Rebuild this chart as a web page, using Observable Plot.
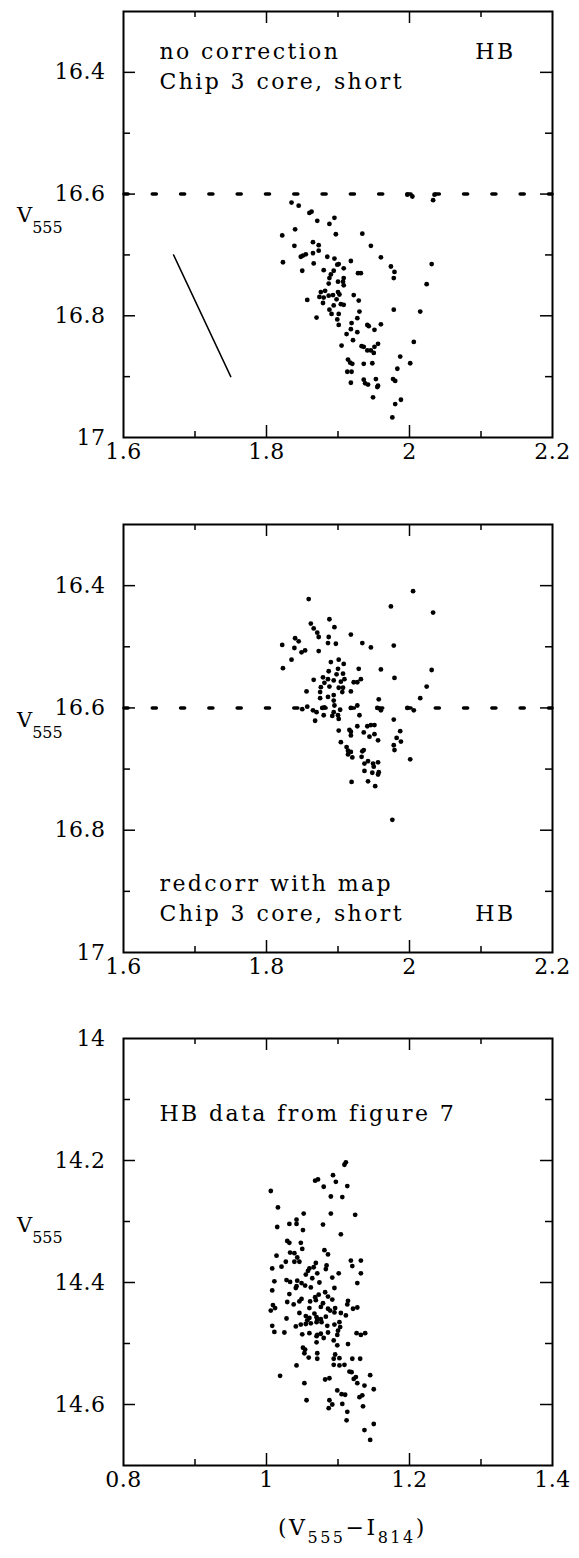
<!DOCTYPE html>
<html><head><meta charset="utf-8">
<script src="https://cdn.jsdelivr.net/npm/d3@7"></script>
<script src="https://cdn.jsdelivr.net/npm/@observablehq/plot@0.6"></script>
<style>body{margin:0;background:#fff;} svg{display:block;} #chart{width:579px;}</style>
</head><body><div id="chart"></div><script>
// ---- data: [color (V555-I814), V555] ----
const hbNoCorr = [[1.835,16.614],[1.845,16.619],[1.860,16.631],[1.863,16.629],[1.895,16.639],[1.871,16.644],[1.888,16.649],[1.840,16.658],[1.822,16.668],[1.897,16.666],[1.934,16.665],[1.865,16.679],[1.873,16.684],[1.839,16.685],[1.946,16.685],[1.873,16.693],[1.865,16.697],[1.855,16.699],[1.851,16.701],[1.848,16.703],[1.960,16.704],[1.885,16.703],[1.895,16.706],[1.823,16.712],[1.866,16.714],[1.901,16.715],[1.899,16.716],[1.918,16.710],[2.031,16.715],[1.974,16.719],[1.850,16.726],[1.880,16.725],[1.908,16.722],[1.890,16.732],[1.894,16.726],[1.928,16.730],[1.932,16.730],[1.979,16.728],[1.978,16.738],[1.888,16.738],[1.908,16.738],[1.907,16.744],[1.900,16.744],[1.887,16.747],[1.908,16.750],[2.024,16.748],[1.876,16.761],[1.882,16.759],[1.874,16.769],[1.880,16.770],[1.893,16.766],[1.887,16.767],[1.900,16.761],[1.902,16.765],[1.857,16.774],[1.879,16.779],[1.898,16.773],[1.922,16.766],[1.929,16.775],[1.894,16.783],[1.904,16.781],[1.908,16.782],[1.888,16.790],[1.978,16.790],[2.015,16.793],[1.930,16.793],[1.891,16.797],[1.901,16.797],[1.870,16.803],[1.899,16.806],[1.927,16.804],[1.901,16.815],[1.919,16.812],[1.941,16.815],[1.943,16.817],[1.960,16.814],[1.951,16.823],[1.918,16.822],[1.912,16.830],[1.927,16.827],[1.905,16.849],[1.921,16.840],[2.006,16.843],[1.933,16.850],[1.936,16.851],[1.951,16.851],[1.956,16.846],[1.941,16.857],[1.946,16.857],[1.950,16.861],[1.987,16.867],[1.914,16.872],[1.917,16.877],[1.920,16.879],[1.936,16.879],[1.948,16.878],[2.001,16.878],[1.983,16.887],[1.913,16.892],[1.919,16.892],[1.936,16.905],[1.953,16.904],[1.977,16.904],[1.980,16.907],[1.918,16.910],[1.938,16.911],[1.942,16.913],[1.956,16.915],[1.955,16.917],[1.949,16.934],[1.988,16.938],[1.980,16.945],[1.976,16.967],[1.997,16.601],[2.004,16.604],[2.033,16.610],[2.035,16.601]];

const hbRedcorr = [[1.859,16.422],[2.005,16.409],[1.974,16.434],[2.033,16.444],[1.888,16.455],[1.862,16.462],[1.866,16.470],[1.895,16.468],[1.871,16.477],[1.873,16.484],[1.887,16.484],[1.918,16.480],[1.840,16.486],[1.845,16.491],[1.822,16.497],[1.886,16.494],[1.897,16.495],[1.934,16.494],[1.946,16.501],[1.978,16.498],[1.839,16.502],[1.854,16.506],[1.849,16.509],[1.873,16.507],[1.835,16.521],[1.890,16.525],[1.901,16.521],[1.908,16.528],[1.823,16.535],[1.900,16.536],[1.887,16.540],[1.907,16.544],[1.898,16.545],[1.929,16.536],[1.960,16.537],[2.031,16.538],[1.879,16.550],[1.886,16.553],[1.894,16.555],[1.904,16.557],[1.909,16.553],[1.866,16.554],[1.881,16.559],[1.876,16.566],[1.888,16.565],[1.901,16.567],[1.907,16.567],[1.906,16.574],[1.918,16.573],[1.922,16.558],[1.932,16.553],[1.927,16.558],[1.979,16.551],[2.024,16.565],[1.856,16.573],[1.875,16.574],[1.875,16.584],[1.886,16.582],[1.894,16.579],[1.957,16.586],[2.015,16.584],
[1.850,16.602],[1.857,16.598],[1.865,16.604],[1.870,16.607],[1.881,16.599],[1.880,16.612],[1.868,16.621],[1.894,16.588],[1.895,16.596],[1.894,16.607],[1.903,16.603],[1.892,16.613],[1.900,16.612],[1.901,16.618],[1.927,16.596],[1.930,16.612],[1.960,16.604],[2.006,16.604],[1.978,16.619],[1.901,16.637],[1.916,16.636],[1.918,16.639],[1.918,16.645],[1.927,16.630],[1.941,16.630],[1.946,16.628],[1.951,16.628],[1.936,16.640],[1.944,16.647],[1.951,16.643],[1.956,16.653],[1.987,16.638],[1.982,16.649],[1.988,16.655],[1.904,16.656],[1.912,16.664],[1.914,16.670],[1.918,16.672],[1.914,16.676],[1.920,16.681],[1.936,16.669],[1.934,16.671],[1.978,16.661],[1.979,16.669],[1.933,16.680],[2.001,16.684],[1.942,16.687],[1.937,16.691],[1.949,16.691],[1.956,16.689],[1.950,16.696],[1.937,16.703],[1.948,16.706],[1.957,16.705],[1.956,16.709],[1.919,16.721],[1.942,16.720],[1.952,16.728],[1.976,16.783],[1.878,16.600],[1.918,16.600],[1.955,16.600],[1.997,16.600]];

const hbFig7 = [[1.006,14.250],[1.090,14.259],[1.106,14.260],[1.016,14.277],[1.052,14.287],[1.090,14.287],[1.124,14.289],[1.042,14.297],[1.042,14.304],[1.032,14.304],[1.015,14.309],[1.079,14.305],[1.051,14.314],[1.104,14.321],[1.029,14.332],[1.032,14.335],[1.048,14.335],[1.050,14.345],[1.081,14.347],[1.086,14.354],[1.014,14.356],[1.033,14.351],[1.039,14.352],[1.043,14.359],[1.039,14.366],[1.046,14.366],[1.027,14.366],[1.021,14.374],[1.008,14.377],[1.118,14.364],[1.132,14.364],[1.120,14.373],[1.069,14.368],[1.066,14.375],[1.060,14.377],[1.058,14.381],[1.084,14.372],[1.083,14.378],[1.101,14.385],[1.132,14.385],[1.071,14.385],[1.055,14.387],[1.064,14.393],[1.011,14.398],[1.028,14.396],[1.033,14.399],[1.043,14.397],[1.042,14.406],[1.041,14.409],[1.049,14.401],[1.054,14.405],[1.074,14.400],[1.092,14.392],[1.127,14.401],[1.008,14.413],[1.062,14.408],[1.095,14.409],[1.032,14.419],[1.068,14.424],[1.082,14.416],[1.073,14.420],[1.086,14.423],[1.092,14.428],[1.069,14.429],[1.049,14.427],[1.046,14.431],[1.038,14.436],[1.029,14.432],[1.061,14.431],[1.079,14.434],[1.076,14.440],[1.114,14.430],[1.113,14.436],[1.009,14.437],[1.012,14.442],[1.006,14.446],[1.060,14.442],[1.086,14.443],[1.089,14.446],[1.096,14.442],[1.095,14.449],[1.104,14.450],[1.127,14.441],[1.121,14.443],[1.046,14.450],[1.055,14.455],[1.060,14.458],[1.067,14.451],[1.070,14.457],[1.076,14.460],[1.083,14.456],[1.028,14.459],[1.111,14.454],[1.008,14.471],[1.041,14.472],[1.048,14.469],[1.055,14.468],[1.062,14.467],[1.070,14.465],[1.077,14.465],[1.085,14.471],[1.095,14.469],[1.102,14.465],[1.103,14.473],[1.057,14.462],[1.071,14.461],
[1.068,14.233],[1.072,14.231],[1.093,14.224],[1.097,14.235],[1.080,14.243],[1.109,14.207],[1.111,14.203],[1.113,14.242],
[1.011,14.481],[1.025,14.482],[1.050,14.485],[1.060,14.483],[1.071,14.486],[1.076,14.484],[1.070,14.488],[1.080,14.491],[1.086,14.482],[1.100,14.479],[1.099,14.486],[1.094,14.495],[1.070,14.498],[1.099,14.503],[1.114,14.501],[1.126,14.483],[1.132,14.486],[1.138,14.483],[1.051,14.507],[1.054,14.510],[1.053,14.516],[1.071,14.516],[1.059,14.523],[1.071,14.525],[1.096,14.518],[1.094,14.525],[1.102,14.524],[1.120,14.525],[1.131,14.525],[1.042,14.536],[1.094,14.535],[1.102,14.536],[1.109,14.535],[1.116,14.546],[1.119,14.547],[1.125,14.555],[1.122,14.558],[1.127,14.565],[1.145,14.552],[1.019,14.553],[1.082,14.559],[1.088,14.557],[1.053,14.565],[1.137,14.569],[1.150,14.575],[1.099,14.577],[1.105,14.583],[1.110,14.584],[1.130,14.588],[1.134,14.585],[1.056,14.593],[1.088,14.593],[1.092,14.600],[1.087,14.606],[1.106,14.599],[1.135,14.603],[1.113,14.612],[1.112,14.626],[1.150,14.632],[1.137,14.642],[1.145,14.658]];

const reddeningVector = [[1.67,16.7],[1.75,16.9]];
const hbLevel = [16.6];

const xTicksTop = [1.6,1.8,2,2.2], xMinorTop = [1.7,1.9,2.1];
const yTicksTop = [16.4,16.6,16.8,17], yMinorTop = [16.5,16.7,16.9];
const xTicksBot = [0.8,1,1.2,1.4], xMinorBot = [0.9,1.1,1.3];
const yTicksBot = [14,14.2,14.4,14.6], yMinorBot = [14.1,14.3,14.5];

const textsP1 = ["no correction","Chip 3 core, short","HB"];
const textsP2 = ["redcorr with map","Chip 3 core, short","HB"];
const textsP3 = ["HB data from figure 7"];

// ---- layout ----
const W = 579, ML = 123, MR = 27, FW = W - ML - MR;
const FONT = "DejaVu Serif";

function panel(cfg) {
  const FH = cfg.height - cfg.mt - cfg.mb;
  const major = cfg.xTicks.slice(1, -1), ymaj = cfg.yTicks.filter(v => v > cfg.yDomain[0] && v < cfg.yDomain[1]);
  const tk = {stroke: "black", strokeWidth: 1.5};
  const marks = [
    Plot.tickY(ymaj, {y: d => d, insetRight: FW - 12, ...tk}),
    Plot.tickY(ymaj, {y: d => d, insetLeft: FW - 12, ...tk}),
    Plot.tickY(cfg.yMinor, {y: d => d, insetRight: FW - 7, ...tk}),
    Plot.tickY(cfg.yMinor, {y: d => d, insetLeft: FW - 7, ...tk}),
    Plot.tickX(major, {x: d => d, insetTop: FH - 12, ...tk}),
    Plot.tickX(major, {x: d => d, insetBottom: FH - 12, ...tk}),
    Plot.tickX(cfg.xMinor, {x: d => d, insetTop: FH - 6, ...tk}),
    Plot.tickX(cfg.xMinor, {x: d => d, insetBottom: FH - 6, ...tk}),
    Plot.axisY({ticks: cfg.yTicks, tickSize: 0, tickPadding: 18, tickFormat: d => String(d), label: null}),
    Plot.axisX({ticks: cfg.xTicks, tickSize: 0, tickPadding: 6, tickFormat: d => String(d), label: null}),
    ...(cfg.extra || []),
    Plot.dot(cfg.pts, {x: d => d[0], y: d => d[1], r: 2.4, fill: "black", stroke: "none"}),
    ...cfg.texts.map(t => Plot.text([t.s], {frameAnchor: t.anchor, textAnchor: t.ta, lineAnchor: "bottom", dx: t.dx, dy: t.dy, fontSize: 22, fontFamily: FONT, fill: "black"})),
    Plot.frame({stroke: "black", strokeWidth: 2})
  ];
  const svg = Plot.plot({
    width: W, height: cfg.height,
    marginLeft: ML, marginRight: MR, marginTop: cfg.mt, marginBottom: cfg.mb,
    x: {domain: cfg.xDomain},
    y: {domain: cfg.yDomain, reverse: true},
    style: {fontFamily: FONT, fontSize: "22px", color: "black", background: "white", overflow: "visible"},
    marks
  });
  const s = d3.select(svg);
  s.selectAll('g[aria-label="text"] text').attr("letter-spacing", "2.4px");
  s.selectAll('g[aria-label="y-axis tick label"] text, g[aria-label="x-axis tick label"] text').attr("letter-spacing", "0.5px");
  // y label V555
  const t = s.append("text").attr("x", 17).attr("y", cfg.vBase).attr("text-anchor", "start").attr("font-family", FONT).attr("font-size", 21).attr("fill", "black");
  t.append("tspan").text("V");
  t.append("tspan").attr("font-size", 16).attr("dy", 11).text("555");
  return svg;
}

const chart = document.getElementById("chart");
chart.appendChild(panel({
  height: 500, mt: 11, mb: 63,
  xDomain: [1.6, 2.2], yDomain: [16.3, 17],
  xTicks: xTicksTop, xMinor: xMinorTop, yTicks: yTicksTop, yMinor: yMinorTop,
  pts: hbNoCorr, vBase: 222,
  extra: [
    Plot.ruleY(hbLevel, {stroke: "black", strokeWidth: 3.6, strokeDasharray: "4,24.3", strokeDashoffset: -1, strokeLinecap: "round"}),
    Plot.line(reddeningVector, {x: d => d[0], y: d => d[1], stroke: "black", strokeWidth: 1.5})
  ],
  texts: [
    {s: textsP1[0], anchor: "top-left", ta: "start", dx: 36, dy: 47},
    {s: textsP1[1], anchor: "top-left", ta: "start", dx: 36, dy: 77},
    {s: textsP1[2], anchor: "top-right", ta: "end", dx: -37, dy: 47}
  ]
}));
chart.appendChild(panel({
  height: 515, mt: 24, mb: 63,
  xDomain: [1.6, 2.2], yDomain: [16.3, 17],
  xTicks: xTicksTop, xMinor: xMinorTop, yTicks: yTicksTop, yMinor: yMinorTop,
  pts: hbRedcorr, vBase: 227,
  extra: [
    Plot.ruleY(hbLevel, {stroke: "black", strokeWidth: 3.6, strokeDasharray: "4,24.3", strokeDashoffset: -1, strokeLinecap: "round"})
  ],
  texts: [
    {s: textsP2[0], anchor: "bottom-left", ta: "start", dx: 36, dy: -62},
    {s: textsP2[1], anchor: "bottom-left", ta: "start", dx: 36, dy: -32},
    {s: textsP2[2], anchor: "bottom-right", ta: "end", dx: -37, dy: -32}
  ]
}));
const p3 = panel({
  height: 543, mt: 23, mb: 93,
  xDomain: [0.8, 1.4], yDomain: [14, 14.7],
  xTicks: xTicksBot, xMinor: xMinorBot, yTicks: yTicksBot, yMinor: yMinorBot,
  pts: hbFig7, vBase: 217,
  texts: [
    {s: textsP3[0], anchor: "top-left", ta: "start", dx: 36, dy: 82}
  ]
});
{
  const xl = d3.select(p3).append("text").attr("x", 278).attr("y", 520).attr("text-anchor", "start").attr("font-family", FONT).attr("font-size", 22).attr("fill", "black").attr("letter-spacing", "2.5px");
  xl.append("tspan").text("(V");
  xl.append("tspan").attr("font-size", 16).attr("dy", 8).text("555");
  xl.append("tspan").attr("dy", -8).text("\u2212I");
  xl.append("tspan").attr("font-size", 16).attr("dy", 8).text("814");
  xl.append("tspan").attr("dy", -8).text(")");
}
chart.appendChild(p3);
</script></body></html>
